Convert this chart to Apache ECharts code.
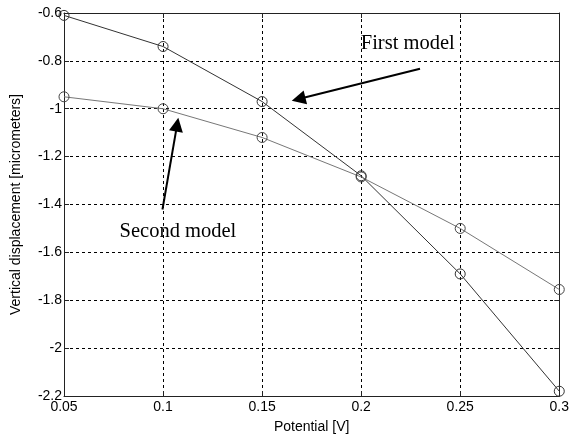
<!DOCTYPE html>
<html>
<head>
<meta charset="utf-8">
<script src="https://cdn.jsdelivr.net/npm/echarts@6/dist/echarts.min.js"></script>
<style>html,body{margin:0;padding:0;background:#fff;}#c{width:572px;height:439px;}</style>
</head>
<body>
<div id="c"></div>
<script>
var potential = [0.05, 0.1, 0.15, 0.2, 0.25, 0.3];
var firstModel = [-0.61, -0.74, -0.97, -1.28, -1.69, -2.18];
var secondModel = [-0.95, -1.0, -1.12, -1.285, -1.5, -1.755];
var xTicks = { min: 0.05, max: 0.3, interval: 0.05 };
var yTicks = { min: -2.2, max: -0.6, interval: 0.2 };
var firstArrow = [[0.2297, -0.833], [0.1684, -0.9596]];
var secondArrow = [[0.0997, -1.421], [0.1071, -1.0663]];
var firstLabel = { text: 'First model', at: [0.2235, -0.729] };
var secondLabel = { text: 'Second model', at: [0.1075, -1.5125] };

function pairs(xs, ys) { return xs.map(function (x, i) { return [x, ys[i]]; }); }
function fmt(v) { return String(parseFloat(v.toFixed(2))); }

var sans = 'Liberation Sans';
var serif = 'Liberation Serif';
var grid = { left: 64, top: 13, right: 10, bottom: 42 };

var chart = echarts.init(document.getElementById('c'), null, { renderer: 'canvas' });

var baseAxisLine = { show: true, onZero: false, lineStyle: { color: '#222', width: 1 } };
var tickIn = { show: true, inside: true, length: 5, lineStyle: { color: '#222' } };
var dashed = { show: true, lineStyle: { color: '#000', type: [3, 3], width: 1 } };

chart.setOption({
  animation: false,
  backgroundColor: '#fff',
  grid: grid,
  xAxis: [
    {
      type: 'value', min: xTicks.min, max: xTicks.max, interval: xTicks.interval,
      position: 'bottom',
      name: 'Potential [V]', nameLocation: 'middle', nameGap: 24,
      nameTextStyle: { fontFamily: sans, fontSize: 14, color: '#000' },
      axisLine: baseAxisLine, axisTick: tickIn, splitLine: dashed,
      axisLabel: { fontFamily: sans, fontSize: 14, color: '#000', margin: 4, formatter: fmt }
    },
    {
      type: 'value', min: xTicks.min, max: xTicks.max, interval: xTicks.interval,
      position: 'top',
      axisLine: baseAxisLine, axisTick: tickIn, splitLine: { show: false },
      axisLabel: { show: false }
    }
  ],
  yAxis: [
    {
      type: 'value', min: yTicks.min, max: yTicks.max, interval: yTicks.interval,
      position: 'left',
      name: 'Vertical displacement [micrometers]', nameLocation: 'middle', nameGap: 41,
      nameTextStyle: { fontFamily: sans, fontSize: 14, color: '#000' },
      axisLine: baseAxisLine, axisTick: tickIn, splitLine: dashed,
      axisLabel: { fontFamily: sans, fontSize: 14, color: '#000', margin: 2, formatter: fmt }
    },
    {
      type: 'value', min: yTicks.min, max: yTicks.max, interval: yTicks.interval,
      position: 'right',
      axisLine: baseAxisLine, axisTick: tickIn, splitLine: { show: false },
      axisLabel: { show: false }
    }
  ],
  series: [
    {
      name: 'First model', type: 'line', data: pairs(potential, firstModel),
      symbol: 'circle', symbolSize: 10, showAllSymbol: true,
      lineStyle: { color: '#333', width: 1 },
      itemStyle: { color: 'rgba(0,0,0,0)', borderColor: '#333', borderWidth: 1 },
      z: 3
    },
    {
      name: 'Second model', type: 'line', data: pairs(potential, secondModel),
      symbol: 'circle', symbolSize: 10, showAllSymbol: true,
      lineStyle: { color: '#777', width: 1 },
      itemStyle: { color: 'rgba(0,0,0,0)', borderColor: '#444', borderWidth: 1 },
      z: 3
    },
    {
      name: 'annotations', type: 'line', data: [], silent: true,
      itemStyle: { color: '#000' },
      markLine: {
        silent: true, animation: false,
        symbol: ['none', 'triangle'], symbolSize: 14,
        itemStyle: { color: '#000' },
        lineStyle: { color: '#000', width: 2, type: 'solid' },
        label: { show: false },
        data: [
          [{ coord: firstArrow[0] }, { coord: firstArrow[1] }],
          [{ coord: secondArrow[0] }, { coord: secondArrow[1] }]
        ]
      },
      markPoint: {
        silent: true, animation: false,
        symbol: 'rect', symbolSize: [1, 1],
        itemStyle: { color: 'rgba(0,0,0,0)' },
        label: { show: true, position: 'inside', fontFamily: serif, fontSize: 20.5, color: '#000',
                 formatter: function (p) { return p.name; } },
        data: [
          { name: firstLabel.text, coord: firstLabel.at },
          { name: secondLabel.text, coord: secondLabel.at }
        ]
      },
      z: 5
    }
  ]
});
</script>
</body>
</html>
